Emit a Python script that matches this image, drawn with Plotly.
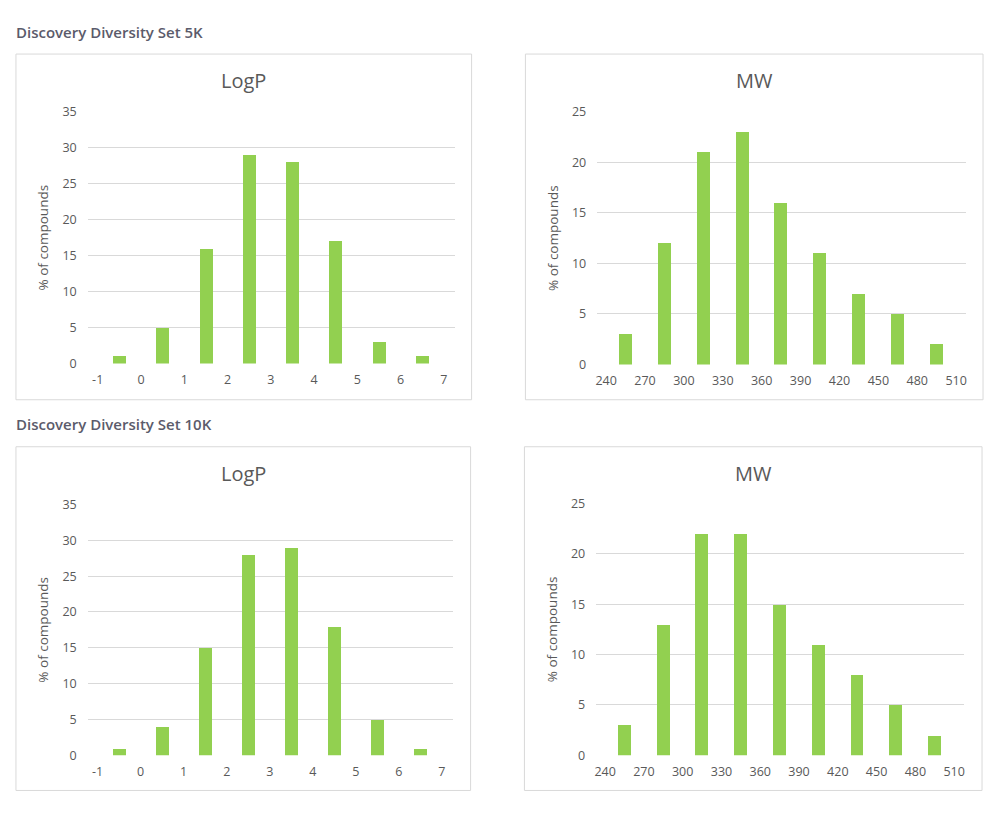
import plotly.graph_objects as go

W, H = 998, 821

# LogP histogram: bin centres between integer boundaries
logp_bins = [-0.5, 0.5, 1.5, 2.5, 3.5, 4.5, 5.5, 6.5]
logp_5k = [1, 5, 16, 29, 28, 17, 3, 1]
logp_10k = [1, 4, 15, 28, 29, 18, 5, 1]
logp_ticks = [-1, 0, 1, 2, 3, 4, 5, 6, 7]

# MW histogram: bin centres, 30 Da bins
mw_bins = [255, 285, 315, 345, 375, 405, 435, 465, 495]
mw_5k = [3, 12, 21, 23, 16, 11, 7, 5, 2]
mw_10k = [3, 13, 22, 22, 15, 11, 8, 5, 2]
mw_ticks = [240, 270, 300, 330, 360, 390, 420, 450, 480, 510]

section_titles = ["Discovery Diversity Set 5K", "Discovery Diversity Set 10K"]

GREEN = "#92D050"
GRID = "#D9D9D9"
TXT = "#595959"
FONT = "Open Sans"


def px_x(a, b):
    return [a / W, b / W]


def px_y(top, bottom):
    return [1 - bottom / H, 1 - top / H]


# (x data, y data, bar width, tick vals, x range, y max, plot px box, panel px box, title)
panels = [
    (logp_bins, logp_5k, 0.3, logp_ticks, [-1.23, 7.25], 35, (86, 454, 105, 362), (14, 471, 46, 399), "LogP"),
    (mw_bins, mw_5k, 10, mw_ticks, [233.1, 517.7], 25, (597, 967, 105, 363), (525, 984, 46, 399), "MW"),
    (logp_bins, logp_10k, 0.3, logp_ticks, [-1.23, 7.25], 35, (86, 452, 506, 762), (14, 470, 447, 798), "LogP"),
    (mw_bins, mw_10k, 10, mw_ticks, [233.1, 517.7], 25, (596, 965, 505, 762), (524, 983, 447, 798), "MW"),
]

fig = go.Figure()
shapes = []
annotations = []

for i, (xs, ys, bw, ticks, xr, ymax, box, pbox, title) in enumerate(panels, start=1):
    sfx = "" if i == 1 else str(i)
    fig.add_trace(go.Bar(
        x=xs, y=ys, width=bw, marker_color=GREEN,
        marker_line_width=0, showlegend=False, hoverinfo="skip",
        xaxis="x" + sfx, yaxis="y" + sfx,
    ))
    x0, x1, y0, y1 = box
    fig.layout["xaxis" + sfx] = dict(
        domain=px_x(x0, x1), range=xr, tickvals=ticks,
        ticktext=[str(t) for t in ticks],
        showgrid=False, zeroline=False, showline=False,
        tickfont=dict(family=FONT, size=12.5, color=TXT),
        ticklabelstandoff=7, anchor="y" + sfx, fixedrange=True,
    )
    fig.layout["yaxis" + sfx] = dict(
        domain=px_y(y0, y1), range=[0, ymax], dtick=5,
        showgrid=True, gridcolor=GRID, gridwidth=1, zeroline=False,
        showline=False, tickfont=dict(family=FONT, size=12.5, color=TXT),
        ticklabelstandoff=10, anchor="x" + sfx, fixedrange=True,
        title=dict(text="% of compounds", font=dict(family=FONT, size=13.5, color=TXT), standoff=10),
    )
    bx0, bx1, by0, by1 = pbox
    shapes.append(dict(
        type="rect", xref="paper", yref="paper",
        x0=bx0 / W, x1=bx1 / W, y0=1 - by1 / H, y1=1 - by0 / H,
        line=dict(color="#D9D9D9", width=1), fillcolor="rgba(0,0,0,0)", layer="below",
    ))
    annotations.append(dict(
        text=title, xref="paper", yref="paper",
        x=(bx0 + bx1) / 2 / W, y=1 - (by0 + 27) / H,
        xanchor="center", yanchor="middle", showarrow=False,
        font=dict(family=FONT, size=20, color=TXT),
    ))

for text, ypx in zip(section_titles, [23, 424]):
    annotations.append(dict(
        text=text, xref="paper", yref="paper", x=12 / W, y=1 - ypx / H,
        xanchor="left", yanchor="middle", showarrow=False,
        font=dict(family=FONT, size=15, color="#5B5B6B", weight=600),
    ))

fig.update_layout(
    width=W, height=H,
    margin=dict(l=0, r=0, t=0, b=0),
    paper_bgcolor="white", plot_bgcolor="white",
    shapes=shapes, annotations=annotations,
    bargap=0,
)

# pin the plot to the page corner so nothing shifts it
pin = (
    "document.documentElement.style.cssText='margin:0;padding:0;overflow:hidden;height:821px';"
    "document.body.style.cssText='margin:0;padding:0;overflow:hidden;height:821px';"
    "var d=document.getElementById('{plot_id}');"
    "d.style.position='absolute';d.style.top='0px';d.style.left='0px';"
)
fig.write_html("out.html", config={"displayModeBar": False}, post_script=pin)
